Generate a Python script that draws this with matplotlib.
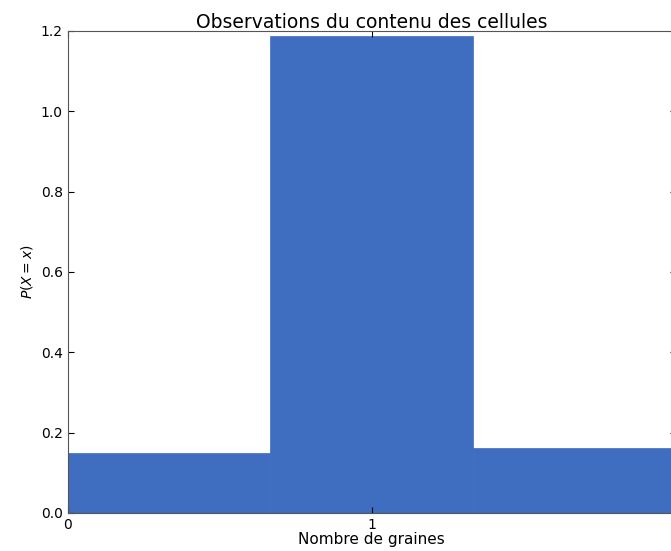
import numpy as np
import matplotlib
matplotlib.use('Agg')
import matplotlib.pyplot as plt

# densité observée par classe (3 classes sur [0, 2])
bords = [0, 2/3, 4/3, 2]
densite = [0.150, 1.188, 0.162]
yticks = [0.0, 0.2, 0.4, 0.6, 0.8, 1.0, 1.2]

fig = plt.figure(figsize=(6.71, 5.51), dpi=100)
ax = fig.add_axes([0.101, 0.069, 0.906, 0.875])

largeurs = np.diff(bords)
ax.bar(bords[:-1], densite, width=largeurs, align='edge',
       color='#3f6dbf', edgecolor='#3f6dbf', linewidth=0.5)

ax.set_xlim(0, 2)
ax.set_ylim(0, 1.2)
ax.set_xticks([0, 1])
ax.set_yticks(yticks)
ax.tick_params(direction='in', labelsize=10, top=True, right=True, length=4)
for s in ax.spines.values():
    s.set_color('#555555')

ax.set_title('Observations du contenu des cellules', fontsize=13.5, pad=2)
ax.set_xlabel('Nombre de graines', fontsize=11, labelpad=0)
ax.set_ylabel('$P(X=x)$', fontsize=10)

fig.savefig('out.png', dpi=100)
